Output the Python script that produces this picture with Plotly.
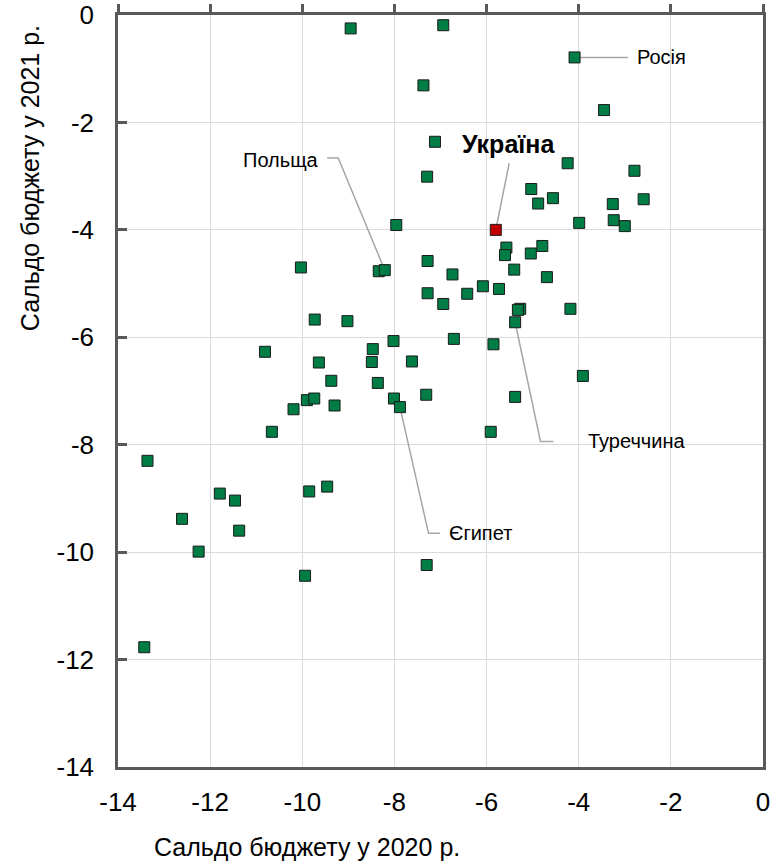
import plotly.graph_objects as go

# Сальдо бюджету (% ВВП): 2020 (x) and 2021 (y)
x2020 = [-8.95, -6.94, -4.09, -7.37, -3.45, -7.12, -4.24, -2.79, -7.29, -5.03,
         -4.56, -2.59, -4.88, -3.26, -3.24, -3.99, -3.00, -7.96, -5.57, -4.79,
         -5.60, -5.04, -7.28, -10.03, -8.34, -8.21, -5.40, -6.74, -4.69, -6.08,
         -5.73, -7.28, -6.42, -6.94, -5.27, -5.32, -4.18, -9.73, -9.02, -5.38,
         -6.71, -8.02, -5.85, -8.47, -10.81, -9.64, -8.49, -7.62, -3.91, -9.37,
         -8.36, -7.31, -5.38, -8.01, -7.88, -9.90, -9.74, -9.30, -10.19, -10.66,
         -5.91, -13.36, -11.79, -11.46, -9.85, -9.46, -12.61, -11.37, -12.25, -7.30,
         -9.94, -13.43]
y2021 = [-0.25, -0.19, -0.79, -1.31, -1.77, -2.36, -2.76, -2.90, -3.01, -3.24,
         -3.41, -3.43, -3.51, -3.52, -3.82, -3.87, -3.93, -3.91, -4.33, -4.30,
         -4.47, -4.44, -4.58, -4.70, -4.77, -4.75, -4.74, -4.83, -4.88, -5.05,
         -5.10, -5.18, -5.19, -5.38, -5.47, -5.49, -5.47, -5.67, -5.70, -5.72,
         -6.03, -6.07, -6.13, -6.22, -6.27, -6.47, -6.46, -6.45, -6.72, -6.81,
         -6.85, -7.07, -7.11, -7.14, -7.30, -7.17, -7.14, -7.27, -7.34, -7.76,
         -7.76, -8.30, -8.91, -9.04, -8.87, -8.78, -9.38, -9.60, -9.99, -10.24,
         -10.44, -11.77]

ukraine_x = [-5.80]
ukraine_y = [-4.00]

# labelled countries: name, marker point
labels = ["Росія", "Україна", "Польща", "Туреччина", "Єгипет"]
label_x = [-4.09, -5.80, -8.21, -5.38, -7.88]
label_y = [-0.79, -4.00, -4.75, -5.72, -7.30]

x_ticks = [-14, -12, -10, -8, -6, -4, -2, 0]
y_ticks = [0, -2, -4, -6, -8, -10, -12, -14]

x_title = "Сальдо бюджету у 2020 р."
y_title = "Сальдо бюджету у 2021 р."

# label placement (leader-line routes from marker to label, text position)
routes = {
    "Росія": dict(path=[(-2.93, -0.79)], text=(-2.77, -0.79), anchor="left", bold=False),
    "Україна": dict(path=[(-5.51, -2.76)], text=(-5.53, -2.40), anchor="center", bold=True),
    "Польща": dict(path=[(-9.22, -2.66), (-9.46, -2.66)], text=(-9.60, -2.70), anchor="right", bold=False),
    "Туреччина": dict(path=[(-4.83, -7.94), (-4.55, -7.94)], text=(-3.84, -7.94), anchor="left", bold=False),
    "Єгипет": dict(path=[(-7.26, -9.65), (-7.01, -9.65)], text=(-6.85, -9.65), anchor="left", bold=False),
}

FONT = "Liberation Sans, Arial, sans-serif"
AXIS_COLOR = "#595959"
GRID_COLOR = "#d9dbdf"
LEADER = "#a6a6a6"

fig = go.Figure()

annotations = []
for name, mx, my in zip(labels, label_x, label_y):
    r = routes[name]
    xs = [mx] + [p[0] for p in r["path"]]
    ys = [my] + [p[1] for p in r["path"]]
    fig.add_trace(go.Scatter(x=xs, y=ys, mode="lines",
                             line=dict(color=LEADER, width=1.5),
                             hoverinfo="skip", showlegend=False))
    tx, ty = r["text"]
    annotations.append(dict(
        x=tx, y=ty, xref="x", yref="y", showarrow=False,
        text=f"<b>{name}</b>" if r["bold"] else name,
        xanchor=r["anchor"], yanchor="middle",
        font=dict(family=FONT, size=25 if r["bold"] else 20, color="#000000"),
    ))

fig.add_trace(go.Scatter(
    x=x2020, y=y2021, mode="markers",
    marker=dict(symbol="square", size=11, color="#007d45",
                line=dict(color="#1a1a1a", width=1)),
    showlegend=False, name="Країни"))
fig.add_trace(go.Scatter(
    x=ukraine_x, y=ukraine_y, mode="markers",
    marker=dict(symbol="square", size=11, color="#c00000",
                line=dict(color="#1a1a1a", width=1)),
    showlegend=False, name="Україна"))

# invisible trace to anchor the top axis (tick marks at top)
fig.add_trace(go.Scatter(x=[x_ticks[0]], y=[y_ticks[-1]], xaxis="x2", mode="markers",
                         marker=dict(opacity=0), hoverinfo="skip", showlegend=False))

annotations.append(dict(
    x=0.293, y=0.0, xref="paper", yref="paper", yshift=-80,
    xanchor="center", yanchor="middle", showarrow=False, text=x_title,
    font=dict(family=FONT, size=25, color="#000000")))
annotations.append(dict(
    x=0.0, y=0.783, xref="paper", yref="paper", xshift=-88,
    xanchor="center", yanchor="middle", showarrow=False, text=y_title, textangle=-90,
    font=dict(family=FONT, size=25, color="#000000")))

fig.update_layout(
    width=773, height=867,
    margin=dict(l=118, r=10, t=15, b=100, autoexpand=False),
    paper_bgcolor="white", plot_bgcolor="white",
    font=dict(family=FONT, size=26, color="#000000"),
    xaxis=dict(range=[-14, 0], tickvals=x_ticks, ticktext=[str(v) for v in x_ticks],
               showgrid=True, gridcolor=GRID_COLOR, gridwidth=1, automargin=False,
               zeroline=False, showline=True, linecolor=AXIS_COLOR, linewidth=2.5,
               ticks="", ticklabelstandoff=10, ticklabeloverflow="allow",
               tickfont=dict(family=FONT, size=26, color="#000000")),
    xaxis2=dict(range=[-14, 0], overlaying="x", side="top", tickvals=x_ticks,
                showgrid=False, zeroline=False, showline=True, linecolor=AXIS_COLOR,
                linewidth=2.5, ticks="outside", ticklen=8, tickwidth=2.5, automargin=False,
                tickcolor=AXIS_COLOR, showticklabels=False),
    yaxis=dict(range=[-14, 0], tickvals=y_ticks, ticktext=[str(v) for v in y_ticks],
               showgrid=True, gridcolor=GRID_COLOR, gridwidth=1, automargin=False,
               zeroline=False, showline=True, linecolor=AXIS_COLOR, linewidth=2.5,
               mirror=True, ticks="inside", ticklen=9, tickwidth=2.5,
               tickcolor=AXIS_COLOR, ticklabelstandoff=16, ticklabeloverflow="allow",
               tickfont=dict(family=FONT, size=26, color="#000000")),
    annotations=annotations,
    showlegend=False,
)

# remove the default page margin so the figure fills the 773x867 window exactly
fig.write_html("out.html", config={"displayModeBar": False},
               post_script="document.body.style.margin='0px';")
